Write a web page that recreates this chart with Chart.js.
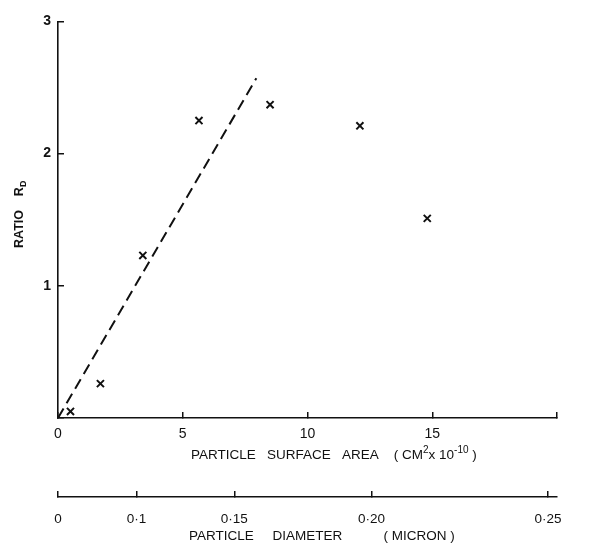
<!DOCTYPE html>
<html>
<head>
<meta charset="utf-8">
<script src="https://cdn.jsdelivr.net/npm/chart.js@4.4.0/dist/chart.umd.min.js"></script>
<style>
  html, body { margin: 0; padding: 0; background: #fff; }
</style>
</head>
<body>
<canvas id="ratioChart" width="603" height="543"></canvas>
<script>
// measured points: particle surface area (cm^2 x 10^-10) vs ratio R_D
const surfaceArea = [0.5, 1.7, 3.4, 5.65, 8.5, 12.1, 14.8];
const ratioRd = [0.05, 0.26, 1.23, 2.25, 2.37, 2.21, 1.51];

// dashed line from the origin
const fitArea = [0, 7.95];
const fitRatio = [0, 2.57];

const areaTicks = [0, 5, 10, 15, 20];
const ratioTicks = [0, 1, 2, 3];

// second scale under the plot: particle diameter in microns
const diameters = [0, 0.1, 0.15, 0.20, 0.25];
const diameterLabels = ['0', '0·1', '0·15', '0·20', '0·25'];

const xTitle = [['PARTICLE   SURFACE   AREA    ( CM'], ['2', 'sup'], ['x 10'], ['-10', 'sup'], [' )']];
const yTitle = [['RATIO    R'], ['D', 'sub']];
const x2Title = [['PARTICLE     DIAMETER           ( MICRON )']];

const FONT = "'Liberation Sans', 'DejaVu Sans', sans-serif";
const INK = '#111';

// diameter (micron) -> area in units of 10^-10 cm^2
function diameterToArea(d) {
  return Math.PI * d * d * 100;
}

function drawRuns(c, runs, x, y, size, weight) {
  runs.forEach(run => {
    const small = run[1] === 'sup' || run[1] === 'sub';
    c.font = (weight || '') + ' ' + (small ? size - 3.5 : size) + 'px ' + FONT;
    let dy = 0;
    if (run[1] === 'sup') dy = -size * 0.42;
    if (run[1] === 'sub') dy = size * 0.25;
    c.fillText(run[0], x, y + dy);
    x += c.measureText(run[0]).width;
  });
}

const axisTitles = {
  id: 'axisTitles',
  afterDraw(chart) {
    const c = chart.ctx;
    const { x, x2 } = chart.scales;
    c.save();
    c.fillStyle = INK;
    c.textBaseline = 'alphabetic';
    c.textAlign = 'left';
    drawRuns(c, xTitle, 191, x.top + 41, 13.5);
    drawRuns(c, x2Title, 189, x2.top + 43, 13.5);
    c.translate(23, 248);
    c.rotate(-Math.PI / 2);
    drawRuns(c, yTitle, 0, 0, 12.5, 'bold');
    c.restore();
  }
};

const axisStyle = {
  grid: { drawOnChartArea: false, tickLength: -6, color: INK, lineWidth: 1.5 },
  border: { display: true, color: INK, width: 1.6 }
};

const ctx = document.getElementById('ratioChart').getContext('2d');
new Chart(ctx, {
  type: 'scatter',
  data: {
    datasets: [
      {
        data: surfaceArea.map((a, i) => ({ x: a, y: ratioRd[i] })),
        pointStyle: 'crossRot',
        pointRadius: 5,
        borderColor: INK,
        backgroundColor: INK,
        borderWidth: 2,
        showLine: false
      },
      {
        type: 'line',
        data: fitArea.map((a, i) => ({ x: a, y: fitRatio[i] })),
        borderColor: INK,
        borderWidth: 2,
        borderDash: [11, 6],
        pointRadius: 0,
        fill: false
      }
    ]
  },
  options: {
    responsive: false,
    animation: false,
    layout: { padding: { top: 19, right: 46, left: 0, bottom: 0 } },
    plugins: { legend: { display: false }, tooltip: { enabled: false } },
    scales: {
      x: {
        type: 'linear', position: 'bottom', min: 0, max: 20, weight: 0,
        afterBuildTicks: s => { s.ticks = areaTicks.map(v => ({ value: v })); },
        ticks: {
          callback: v => v === 20 ? '' : v,
          padding: 14, color: INK, font: { family: FONT, size: 14 },
          maxRotation: 0, autoSkip: false
        },
        grid: axisStyle.grid,
        border: axisStyle.border,
        afterFit: s => { s.height = 79; }
      },
      x2: {
        type: 'linear', position: 'bottom', min: 0, max: 20, weight: 1,
        afterBuildTicks: s => { s.ticks = diameters.map(d => ({ value: diameterToArea(d) })); },
        ticks: {
          callback: (v, i) => diameterLabels[i],
          padding: 20, color: INK, font: { family: FONT, size: 13.5 },
          maxRotation: 0, autoSkip: false
        },
        grid: axisStyle.grid,
        border: axisStyle.border,
        afterFit: s => { s.height = 46; }
      },
      y: {
        type: 'linear', position: 'left', min: 0, max: 3,
        afterBuildTicks: s => { s.ticks = ratioTicks.map(v => ({ value: v })); },
        ticks: {
          callback: v => v === 0 ? '' : v,
          padding: 13, color: INK, font: { family: FONT, size: 14, weight: 'bold' },
          autoSkip: false
        },
        grid: axisStyle.grid,
        border: axisStyle.border,
        afterFit: s => { s.width = 58; }
      }
    }
  },
  plugins: [axisTitles]
});
</script>
</body>
</html>
